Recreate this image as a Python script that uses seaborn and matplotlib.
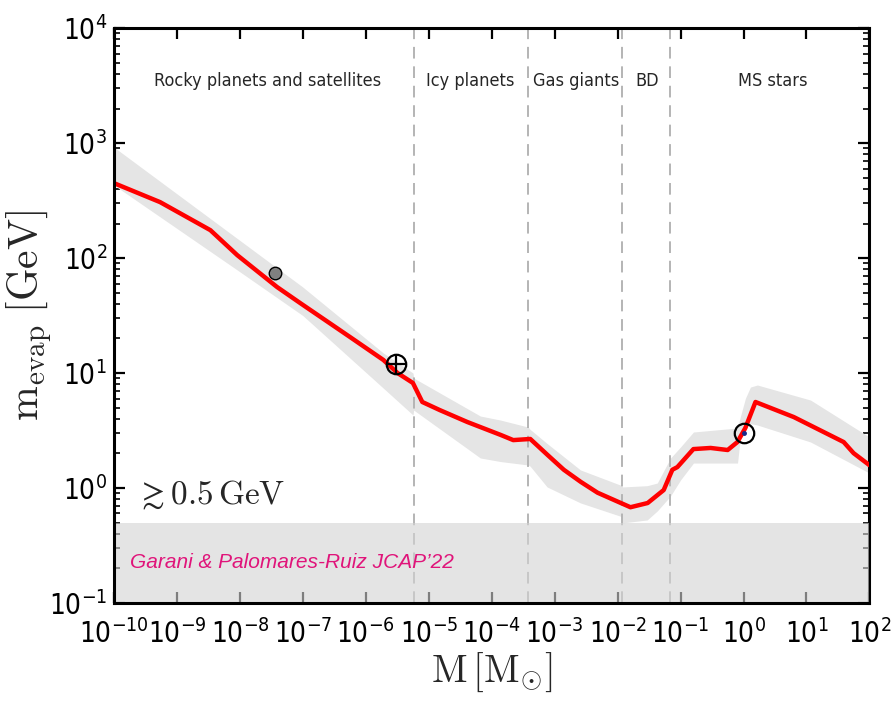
import numpy as np
import matplotlib
matplotlib.use("Agg")
import matplotlib.pyplot as plt
import seaborn as sns

# Evaporation mass vs. object mass (solar masses)
mass = [1e-10, 5.4e-10, 3.4e-9, 9.1e-9, 3.9e-8, 9.1e-8, 5.6e-7, 1.9e-6, 3.2e-6,
        5.6e-6, 7.9e-6, 1.5e-5, 4.1e-5, 1.4e-4, 2.2e-4, 4.1e-4, 7.7e-4, 1.4e-3,
        2.6e-3, 4.8e-3, 8.6e-3, 1.6e-2, 3.0e-2, 5.4e-2, 7.4e-2, 8.9e-2, 0.16,
        0.30, 0.56, 0.80, 1.07, 1.55, 6.3, 39.0, 56.0, 100.0]
m_evap = [449, 307, 175, 106, 56, 40.6, 20.6, 13.0, 10.0,
          8.2, 5.6, 4.76, 3.75, 2.89, 2.61, 2.67, 1.94, 1.44,
          1.13, 0.91, 0.79, 0.68, 0.74, 0.96, 1.44, 1.52, 2.18,
          2.23, 2.14, 2.51, 3.33, 5.6, 4.14, 2.51, 2.01, 1.58]

# Uncertainty band (log10 of mass, log10 of upper / lower m_evap)
band_logM = [-10.0, -8.04, -7.0, -5.72, -5.25, -5.24, -4.18, -3.86, -3.42, -3.39,
             -3.12, -2.59, -1.93, -1.92, -1.53, -1.37, -1.16, -1.0, -0.795, -0.095,
             -0.05, 0.03, 0.11, 0.22, 1.065, 2.0]
band_hi = [2.965, 2.17, 1.748, 1.174, 1.0, 0.957, 0.626, 0.591, 0.530, 0.51,
           0.387, 0.157, 0.02, 0.009, 0.02, 0.043, 0.26, 0.357, 0.487, 0.522,
           0.62, 0.78, 0.878, 0.896, 0.765, 0.443]
band_lo = [2.635, 1.896, 1.50, 0.868, 0.635, 0.678, 0.261, 0.23, 0.20, 0.19,
           0.009, -0.13, -0.25, -0.304, -0.278, -0.20, -0.07, 0.07, 0.217, 0.217,
           0.443, 0.55, 0.56, 0.548, 0.40, 0.13]

# Object classes and their boundaries
region_names = ["Rocky planets and satellites", "Icy planets", "Gas giants", "BD", "MS stars"]
region_label_x = [2.8e-8, 4.6e-5, 2.2e-3, 2.98e-2, 2.9]
boundaries = [5.9e-6, 3.8e-4, 1.17e-2, 6.8e-2]

# Reference bodies
moon_M, moon_m = [3.6e-8], [74]
earth_M, earth_m = [3.0e-6], [12.0]
sun_M, sun_m = [1.0], [3.0]

floor_lo, floor_hi = 0.1, 0.5

sns.set_theme(style="ticks")
plt.rcParams["font.family"] = ["DejaVu Sans"]
plt.rcParams["font.stretch"] = "condensed"
plt.rcParams["mathtext.fontset"] = "cm"

fig = plt.figure(figsize=(8.94, 7.06), dpi=100)
ax = fig.add_axes([0.1275, 0.146, 0.845, 0.814])
ax.set_xscale("log")
ax.set_yscale("log")

bx = 10.0 ** np.array(band_logM)
ax.fill_between(bx, 10.0 ** np.array(band_lo), 10.0 ** np.array(band_hi),
                color="#e5e5e5", lw=0, zorder=1)

for b in boundaries:
    ax.axvline(b, color="#b4b4b4", lw=1.4, dashes=(6, 4), zorder=1.5)

sns.lineplot(x=mass, y=m_evap, ax=ax, color="red", lw=3.2, zorder=4,
             sort=True, estimator=None)

ax.plot(moon_M, moon_m, "o", ms=9, mfc="#808080", mec="black", mew=1.0, zorder=5)
ax.plot(earth_M, earth_m, "o", ms=14, mfc="none", mec="black", mew=1.6, zorder=5)
ax.plot(earth_M, earth_m, "+", ms=14, mec="black", mew=1.6, zorder=5)
ax.plot(sun_M, sun_m, "o", ms=14, mfc="none", mec="black", mew=1.6, zorder=5)
ax.plot(sun_M, sun_m, "o", ms=2.5, mfc="#1a2a8a", mec="#1a2a8a", zorder=5)

# Lower bound from the literature
ax.axhspan(floor_lo, floor_hi, color="#d3d3d3", alpha=0.6, lw=0, zorder=3)
ax.text(2.2e-10, 0.87, r"$\gtrsim 0.5\,\mathrm{GeV}$", fontsize=24,
        ha="left", va="center", zorder=6)
ax.text(1.8e-10, 0.223, "Garani & Palomares-Ruiz JCAP\u201922", fontsize=15,
        style="italic", color="#e0147a", family=["Liberation Sans", "DejaVu Sans"],
        stretch="normal", ha="left", va="center", zorder=6)

for name, xc in zip(region_names, region_label_x):
    ax.text(xc, 0.908, name, transform=ax.get_xaxis_transform(),
            ha="center", va="center", fontsize=13)

ax.set_xlim(1e-10, 1e2)
ax.set_ylim(1e-1, 1e4)
ax.set_xticks([10.0 ** k for k in range(-10, 3)])
ax.set_yticks([10.0 ** k for k in range(-1, 5)])

ax.set_xlabel(r"$\mathrm{M}\,[\mathrm{M}_{\odot}]$", fontsize=28, va="top")
ax.set_ylabel(r"$\mathrm{m}_{\mathrm{evap}}\;[\mathrm{GeV}]$", fontsize=30, va="center")
ax.xaxis.set_label_coords(0.5, -0.083)
ax.yaxis.set_label_coords(-0.112, 0.5)

ax.tick_params(which="both", direction="in", top=True, right=True, colors="black")
ax.tick_params(which="major", length=8, width=1.6, labelsize=20)
ax.tick_params(which="minor", length=4.5, width=1.2)
ax.tick_params(axis="x", which="major", pad=12)
ax.tick_params(axis="y", which="major", pad=5)

for side in ["left", "right", "top", "bottom"]:
    ax.spines[side].set_linewidth(2.2)
    ax.spines[side].set_color("black")
ax.spines["left"].set_zorder(6)
ax.spines["bottom"].set_zorder(6)
ax.spines["top"].set_zorder(6)

fig.savefig("out.png", dpi=100)
